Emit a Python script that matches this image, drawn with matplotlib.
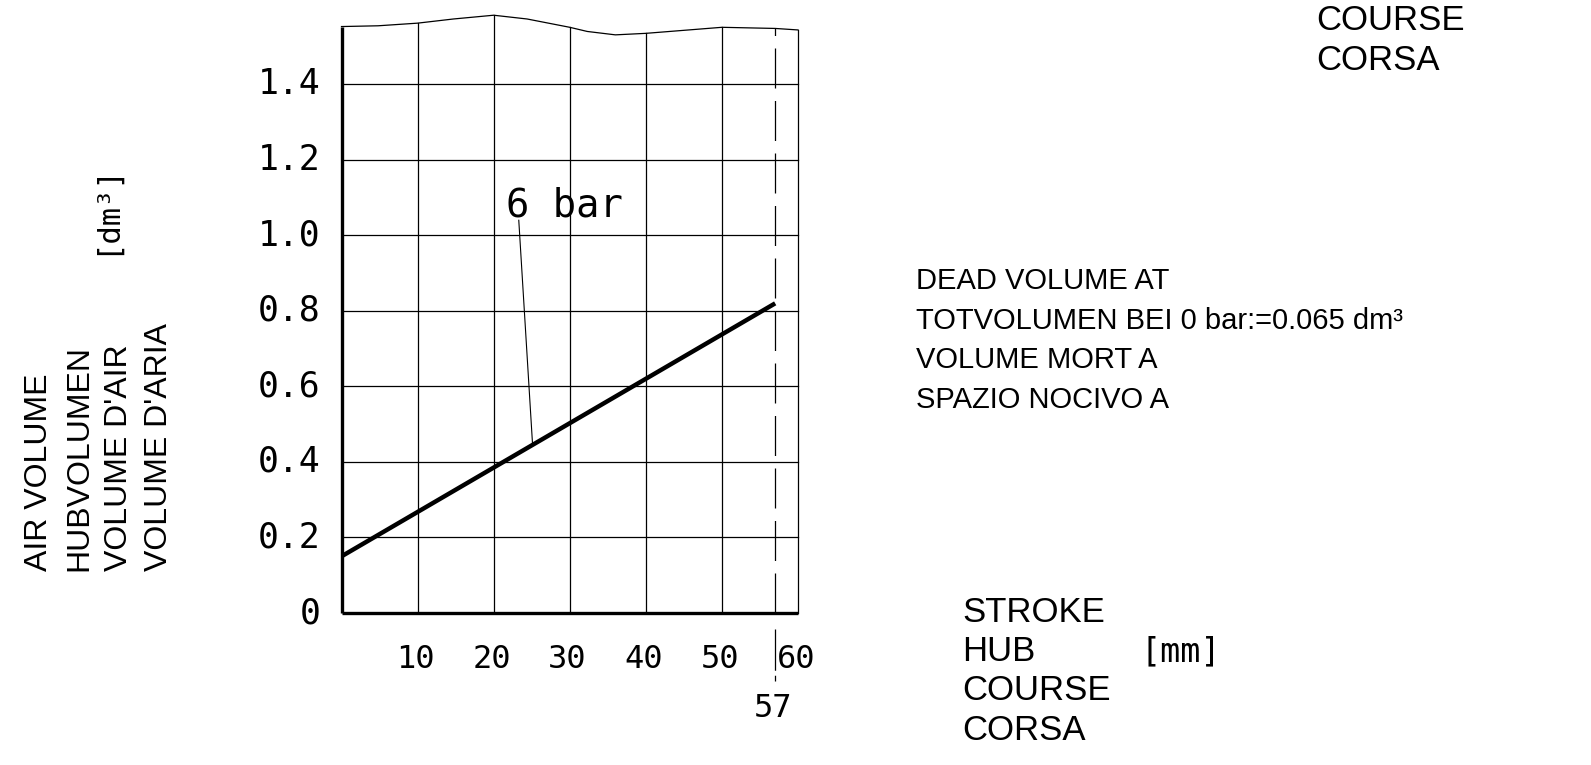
import matplotlib
matplotlib.use("Agg")
import matplotlib.pyplot as plt

# ─── Data ─────────────────────────────────────────────────────────────────────

stroke_mm   = [0, 57]                 # 6 bar line, start and end of stroke
volume_dm3  = [0.15, 0.82]

x_ticks     = [10, 20, 30, 40, 50, 60]
y_ticks     = [0, 0.2, 0.4, 0.6, 0.8, 1.0, 1.2, 1.4]
y_labels    = ["0", "0.2", "0.4", "0.6", "0.8", "1.0", "1.2", "1.4"]

# wavy "break" line closing the top of the grid
top_x = [0, 4.8, 10, 14.7, 20, 24.4, 30, 32.3, 36, 40, 50, 57, 60]
top_y = [1.553, 1.555, 1.562, 1.573, 1.583, 1.573, 1.551, 1.540, 1.531,
         1.535, 1.551, 1.548, 1.544]

stroke_max = 57

mono = ["DejaVu Sans Mono"]
sans = ["Liberation Sans", "DejaVu Sans"]

W, H = 1591, 765
fig = plt.figure(figsize=(W / 100, H / 100), dpi=100)
ax = fig.add_axes([341.5 / W, 1 - 613 / H, (798 - 341.5) / W, (613 - 8.8) / H])
ax.set_xlim(0, 60)
ax.set_ylim(0, 1.6)
for s in ax.spines.values():
    s.set_visible(False)
ax.set_xticks([])
ax.set_yticks([])

def top_at(xv):
    return top_y[top_x.index(xv)]

# grid
for yv in y_ticks[1:]:
    ax.plot([0, 60], [yv, yv], color="black", lw=0.9, clip_on=False)
for xv in x_ticks[:-1]:
    ax.plot([xv, xv], [0, top_at(xv)], color="black", lw=0.9, clip_on=False)
ax.plot([60, 60], [0, top_at(60)], color="black", lw=0.9, clip_on=False)
ax.plot(top_x, top_y, color="black", lw=0.9, clip_on=False)

# frame left / bottom
ax.plot([0, 0], [0, top_at(0)], color="black", lw=2.4,
        solid_capstyle="butt", clip_on=False)
ax.plot([0, 60], [0, 0], color="black", lw=2.4,
        solid_capstyle="butt", clip_on=False)

# stroke limit (dashed)
ax.plot([stroke_max, stroke_max], [0, top_at(57)], color="black", lw=0.9,
        dashes=(32, 10), clip_on=False)
ax.plot([stroke_max, stroke_max], [-0.042, -0.18], color="black", lw=0.9,
        dashes=(33, 4, 6, 4), clip_on=False)
ax.text(stroke_max - 0.25, -0.252, "57", fontsize=23, family=mono,
        ha="center", va="center", clip_on=False)

# 6 bar line
ax.plot(stroke_mm, volume_dm3, color="black", lw=3.2, solid_capstyle="butt")
ax.plot([23.3, 25.1], [1.04, 0.45], color="black", lw=0.8)
ax.text(29.3, 1.08, "6 bar", fontsize=28, family=mono,
        ha="center", va="center")

# tick labels
for yv, lab in zip(y_ticks, y_labels):
    ax.text(-2.75, yv, lab, fontsize=25, family=mono, ha="right",
            va="center", clip_on=False)
for xv in x_ticks:
    ax.text(xv - 0.3, -0.124, str(xv), fontsize=23, family=mono,
            ha="center", va="center", clip_on=False)

# y axis title (rotated)
ylab = ["AIR VOLUME", "HUBVOLUMEN", "VOLUME D'AIR", "VOLUME D'ARIA"]
for i, line in enumerate(ylab):
    fig.text((39 + i * 40) / W, 1 - 571 / H, line, rotation=90,
             fontsize=23, family=sans, ha="center", va="bottom")
fig.text(105 / W, 1 - 255 / H, "[dm³]", rotation=90, fontsize=22,
         family=mono, ha="center", va="bottom")

# dead volume note
note = ["DEAD VOLUME AT", "TOTVOLUMEN BEI 0 bar:=0.065 dm³",
        "VOLUME MORT A", "SPAZIO NOCIVO A"]
for i, line in enumerate(note):
    fig.text(916 / W, 1 - (281 + i * 39.5) / H, line, fontsize=21,
             family=sans, ha="left", va="center")

# x axis title
xlab = ["STROKE", "HUB", "COURSE", "CORSA"]
for i, line in enumerate(xlab):
    fig.text(962 / W, 1 - (612 + i * 39.5) / H, line, fontsize=25,
             family=sans, ha="left", va="center")
fig.text(1141 / W, 1 - 652 / H, "[mm]", fontsize=24, family=mono,
         ha="left", va="center")

# fragment at top right
for i, line in enumerate(["COURSE", "CORSA"]):
    fig.text(1316 / W, 1 - (21 + i * 39.5) / H, line, fontsize=25,
             family=sans, ha="left", va="center")

fig.savefig("out.png", dpi=100, facecolor="white")
